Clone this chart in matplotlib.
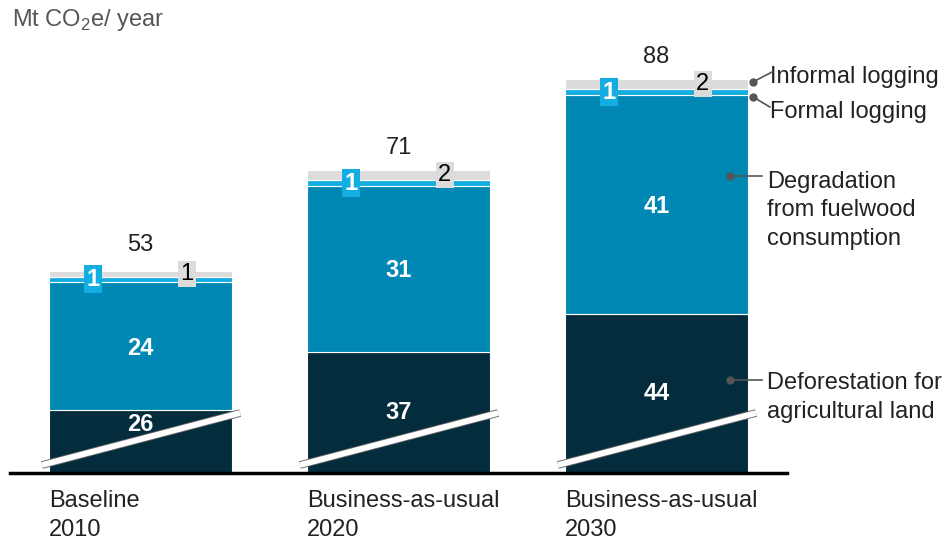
import numpy as np
import matplotlib
matplotlib.use("Agg")
import matplotlib.pyplot as plt

plt.rcParams['font.family'] = ['Liberation Sans', 'DejaVu Sans']
plt.rcParams['mathtext.fontset'] = 'custom'
plt.rcParams['mathtext.rm'] = 'Liberation Sans'

categories = ["Baseline\n2010", "Business-as-usual\n2020", "Business-as-usual\n2030"]
deforestation = [26, 37, 44]
degradation = [24, 31, 41]
formal_logging = [1, 1, 1]
informal_logging = [1, 2, 2]
totals = [53, 71, 88]

c_navy = "#032c3c"
c_blue = "#0087b3"
c_cyan = "#14ade2"
c_grey = "#dcdcdc"
c_text = "#222222"
fs = 17

ybot = 14.3
fig = plt.figure(figsize=(9.49, 5.43), dpi=100)
ax = fig.add_axes([10/949, 70/543, 777/949, 433/543])
ax.set_xlim(-0.506, 2.506)
ax.set_ylim(ybot, ybot + 433/5.35)

x = np.arange(len(categories))
w = 0.709
layers = [deforestation, degradation, formal_logging, informal_logging]
colors = [c_navy, c_blue, c_cyan, c_grey]
bottom = np.zeros(len(x))
for vals, col in zip(layers, colors):
    ax.bar(x, vals, w, bottom=bottom, color=col, edgecolor="white", linewidth=0.8, zorder=2)
    bottom += np.array(vals)

for i in range(len(x)):
    # deforestation label (bar is cut at the bottom)
    top = deforestation[i]
    vis = top - ybot
    yl = (ybot + top) / 2 if vis > 15 else top - 2.7
    ax.text(x[i], yl, str(deforestation[i]), ha="center", va="center", color="white",
            fontsize=fs, fontweight="bold", zorder=5)
    # degradation label
    ax.text(x[i], deforestation[i] + degradation[i] / 2 - 0.4, str(degradation[i]), ha="center",
            va="center", color="white", fontsize=fs, fontweight="bold", zorder=5)
    # formal logging box
    b = deforestation[i] + degradation[i]
    ax.text(x[i] - 0.184, b + formal_logging[i] / 2, str(formal_logging[i]), ha="center",
            va="center", color="white", fontsize=fs, fontweight="bold", zorder=6,
            bbox=dict(boxstyle="square,pad=0.1", fc=c_cyan, ec="none"))
    # informal logging box
    b2 = b + formal_logging[i]
    ax.text(x[i] + 0.18, b2 + informal_logging[i] / 2, str(informal_logging[i]), ha="center",
            va="center", color="black", fontsize=fs, zorder=6,
            bbox=dict(boxstyle="square,pad=0.1", fc=c_grey, ec="none"))
    # total
    ax.text(x[i], totals[i] + 4, str(totals[i]), ha="center", va="center",
            color=c_text, fontsize=fs)
    # axis break marks
    bx = [x[i] - 0.382, x[i] + 0.386]
    by = [ybot + 8 / 5.35, ybot + 60 / 5.35]
    ax.plot(bx, by, color="#666666", lw=5.5, solid_capstyle="butt", zorder=3, clip_on=False)
    ax.plot(bx, by, color="white", lw=4.2, solid_capstyle="butt", zorder=4, clip_on=False)
    # category labels
    ax.text(x[i] - w / 2, ybot - 3.2, categories[i], ha="left", va="top",
            fontsize=fs, color=c_text, linespacing=1.4)

# right-hand annotations (on the last bar)
xr = x[-1]
dot_kw = dict(color="#555555", marker="o", ms=5, zorder=7, clip_on=False)
line_kw = dict(color="#555555", lw=1.2, zorder=7, clip_on=False)
inf_y = deforestation[2] + degradation[2] + formal_logging[2] + informal_logging[2] / 2
frm_y = deforestation[2] + degradation[2] + formal_logging[2] / 2
ax.plot([xr + 0.374], [inf_y + 0.4], **dot_kw)
ax.plot([xr + 0.374, xr + 0.45], [inf_y + 0.4, inf_y + 2.3], **line_kw)
ax.text(xr + 0.44, inf_y + 1.3, "Informal logging", ha="left", va="center", fontsize=fs, color=c_text)
ax.plot([xr + 0.374], [frm_y - 0.9], **dot_kw)
ax.plot([xr + 0.374, xr + 0.44], [frm_y - 0.9, frm_y - 2.8], **line_kw)
ax.text(xr + 0.44, frm_y - 3.7, "Formal logging", ha="left", va="center", fontsize=fs, color=c_text)

ax.plot([xr + 0.285], [69.8], **dot_kw)
ax.plot([xr + 0.285, xr + 0.41], [69.8, 69.8], **line_kw)
ax.text(xr + 0.43, 70.8, "Degradation\nfrom fuelwood\nconsumption", ha="left", va="top",
        fontsize=fs, color=c_text, linespacing=1.38)
ax.plot([xr + 0.285], [31.7], **dot_kw)
ax.plot([xr + 0.285, xr + 0.41], [31.7, 31.7], **line_kw)
ax.text(xr + 0.43, 33.1, "Deforestation for\nagricultural land", ha="left", va="top",
        fontsize=fs, color=c_text, linespacing=1.38)

for s in ["top", "right", "left"]:
    ax.spines[s].set_visible(False)
ax.spines["bottom"].set_linewidth(2.5)
ax.spines["bottom"].set_color("black")
ax.spines["bottom"].set_zorder(8)
ax.set_xticks([])
ax.set_yticks([])

fig.text(12/949, 1 - 20/543, "Mt CO$_\\mathregular{2}$e/ year", ha="left", va="center",
         fontsize=fs, color="#555555")

fig.savefig("out.png", dpi=100)
